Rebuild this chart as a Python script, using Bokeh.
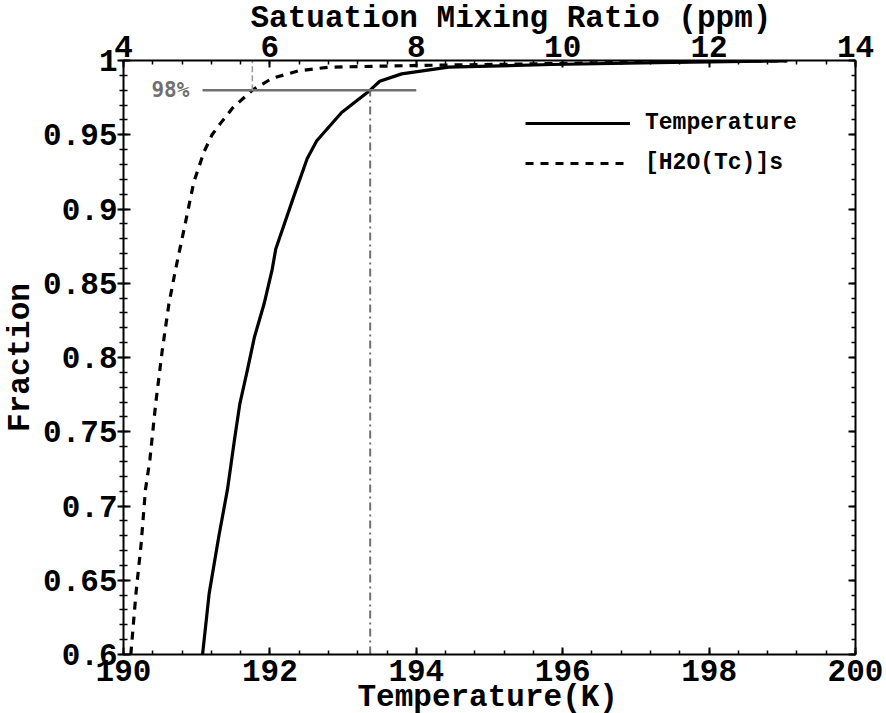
import numpy as np
from bokeh.plotting import figure
from bokeh.models import (Range1d, LinearAxis, FixedTicker, CustomJSTickFormatter,
                          Legend, LegendItem, Title)
from bokeh.embed import file_html
from bokeh.resources import INLINE
from bokeh.core.properties import value

# ---- data ----
temp_k = [191.08, 191.17, 191.30, 191.42, 191.52, 191.59, 191.69, 191.79, 191.92,
          192.03, 192.08, 192.33, 192.51, 192.64, 192.98, 193.37, 193.50, 193.80,
          194.44, 195.85, 197.50, 199.07]
temp_frac = [0.600, 0.641, 0.679, 0.711, 0.746, 0.769, 0.791, 0.814, 0.836,
             0.859, 0.873, 0.909, 0.934, 0.946, 0.965, 0.980, 0.986, 0.991,
             0.9955, 0.9973, 0.9987, 0.9997]

h2o_ppm = [4.10, 4.17, 4.24, 4.30, 4.36, 4.44, 4.53, 4.62, 4.71, 4.83, 4.96, 5.10,
           5.21, 5.33, 5.49, 5.76, 6.03, 6.39, 6.80, 7.94, 10.0, 12.0, 13.05]
h2o_frac = [0.600, 0.641, 0.674, 0.711, 0.731, 0.769, 0.805, 0.836, 0.859, 0.887,
            0.918, 0.9385, 0.950, 0.958, 0.968, 0.980, 0.988, 0.993, 0.9955,
            0.9966, 0.998, 0.9995, 0.9998]

temp_ticks = [190, 192, 194, 196, 198, 200]
ppm_ticks = [4, 6, 8, 10, 12, 14]
frac_ticks = [0.6, 0.65, 0.7, 0.75, 0.8, 0.85, 0.9, 0.95, 1.0]

level_98 = 0.98
level_98_span_k = [191.08, 194.0]
temp_at_98 = 193.37
ppm_at_98 = 5.76
label_98 = "98%"
label_98_x = 190.90

x_title = "Temperature(K)"
x2_title = "Satuation Mixing Ratio (ppm)"
y_title = "Fraction"

FONT = "Liberation Mono"
GRAY = "#707070"

p = figure(width=886, height=713, x_range=Range1d(190, 200), y_range=Range1d(0.6, 1.0),
           output_backend="svg", toolbar_location=None,
           min_border_left=121, min_border_right=31, min_border_top=60, min_border_bottom=59)
p.extra_x_ranges = {"ppm": Range1d(4, 14)}
p.grid.visible = False
p.outline_line_color = None
p.background_fill_color = "white"
p.border_fill_color = "white"

top_axis = LinearAxis(x_range_name="ppm")
right_axis = LinearAxis()
p.add_layout(top_axis, "above")
p.add_layout(right_axis, "right")


def style(ax):
    ax.axis_line_width = 2
    ax.axis_line_color = "black"
    ax.major_tick_line_width = 2
    ax.minor_tick_line_width = 1.5
    ax.major_tick_line_color = "black"
    ax.minor_tick_line_color = "black"
    ax.major_tick_in = 7
    ax.major_tick_out = 0
    ax.minor_tick_in = 4
    ax.minor_tick_out = 0
    ax.major_label_text_font = FONT
    ax.major_label_text_font_style = "bold"
    ax.major_label_text_font_size = "31px"
    ax.major_label_text_color = "black"
    ax.axis_label_text_font = FONT
    ax.axis_label_text_font_style = "bold"
    ax.axis_label_text_font_size = "31px"
    ax.axis_label_text_color = "black"


bottom = p.below[0]
left = p.left[0]
for ax in (bottom, left, top_axis, right_axis):
    style(ax)

minor_k = [round(v, 2) for v in np.arange(190, 200.01, 0.4)]
minor_ppm = [round(v, 2) for v in np.arange(4, 14.01, 0.4)]
minor_f = [round(v, 3) for v in np.arange(0.6, 1.0001, 0.01)]

bottom.ticker = FixedTicker(ticks=temp_ticks, minor_ticks=minor_k)
top_axis.ticker = FixedTicker(ticks=ppm_ticks, minor_ticks=minor_ppm)
left.ticker = FixedTicker(ticks=frac_ticks, minor_ticks=minor_f)
right_axis.ticker = FixedTicker(ticks=frac_ticks, minor_ticks=minor_f)

fmt = CustomJSTickFormatter(code="return String(Math.round(tick*100)/100);")
left.formatter = fmt
right_axis.major_label_text_color = None
right_axis.major_label_text_font_size = "0px"

left.major_tick_out = 6
left.minor_tick_out = 4
left.major_label_standoff = 0
left.axis_label = y_title
left.axis_label_standoff = 2

bottom.major_label_standoff = 5
top_axis.major_label_standoff = 4

# axis titles for the bottom and top axes, as side-panel titles (outside the tick labels)
p.add_layout(Title(text=x2_title, align="left", offset=127, standoff=-6,
                   text_font=FONT, text_font_style="bold", text_font_size="31px",
                   text_color="black"), "above")
p.add_layout(Title(text=x_title, align="left", offset=234, standoff=-8,
                   vertical_align="top",
                   text_font=FONT, text_font_style="bold", text_font_size="31px",
                   text_color="black"), "below")

# curves
r_t = p.line(temp_k, temp_frac, line_color="black", line_width=3.2, line_join="round")
r_h = p.line(h2o_ppm, h2o_frac, x_range_name="ppm", line_color="black", line_width=3.2,
             line_dash="8 7")

# 98% reference marks
p.line(level_98_span_k, [level_98, level_98], line_color=GRAY, line_width=2.5)
p.line([temp_at_98, temp_at_98], [0.6, level_98], line_color=GRAY, line_width=2,
       line_dash="8 4 2 4")
p.line([ppm_at_98, ppm_at_98], [level_98, 1.0], x_range_name="ppm", line_color="#999999",
       line_width=1.5, line_dash="6 3")
p.text(x=[label_98_x], y=[level_98], text=[label_98], text_align="right",
       text_baseline="middle", text_font=value("DejaVu Sans Mono"),
       text_font_style="bold", text_font_size="21px", text_color=GRAY)

legend = Legend(items=[LegendItem(label="Temperature", renderers=[r_t]),
                       LegendItem(label="[H2O(Tc)]s", renderers=[r_h])],
                location=(402, 478), glyph_width=105, glyph_height=20, label_height=20,
                label_standoff=15, spacing=14, padding=0, margin=0,
                border_line_color=None, background_fill_alpha=0,
                label_text_font=FONT, label_text_font_style="bold",
                label_text_font_size="23px", label_text_color="black")
p.add_layout(legend)

open("out.html", "w").write(file_html(p, INLINE))
